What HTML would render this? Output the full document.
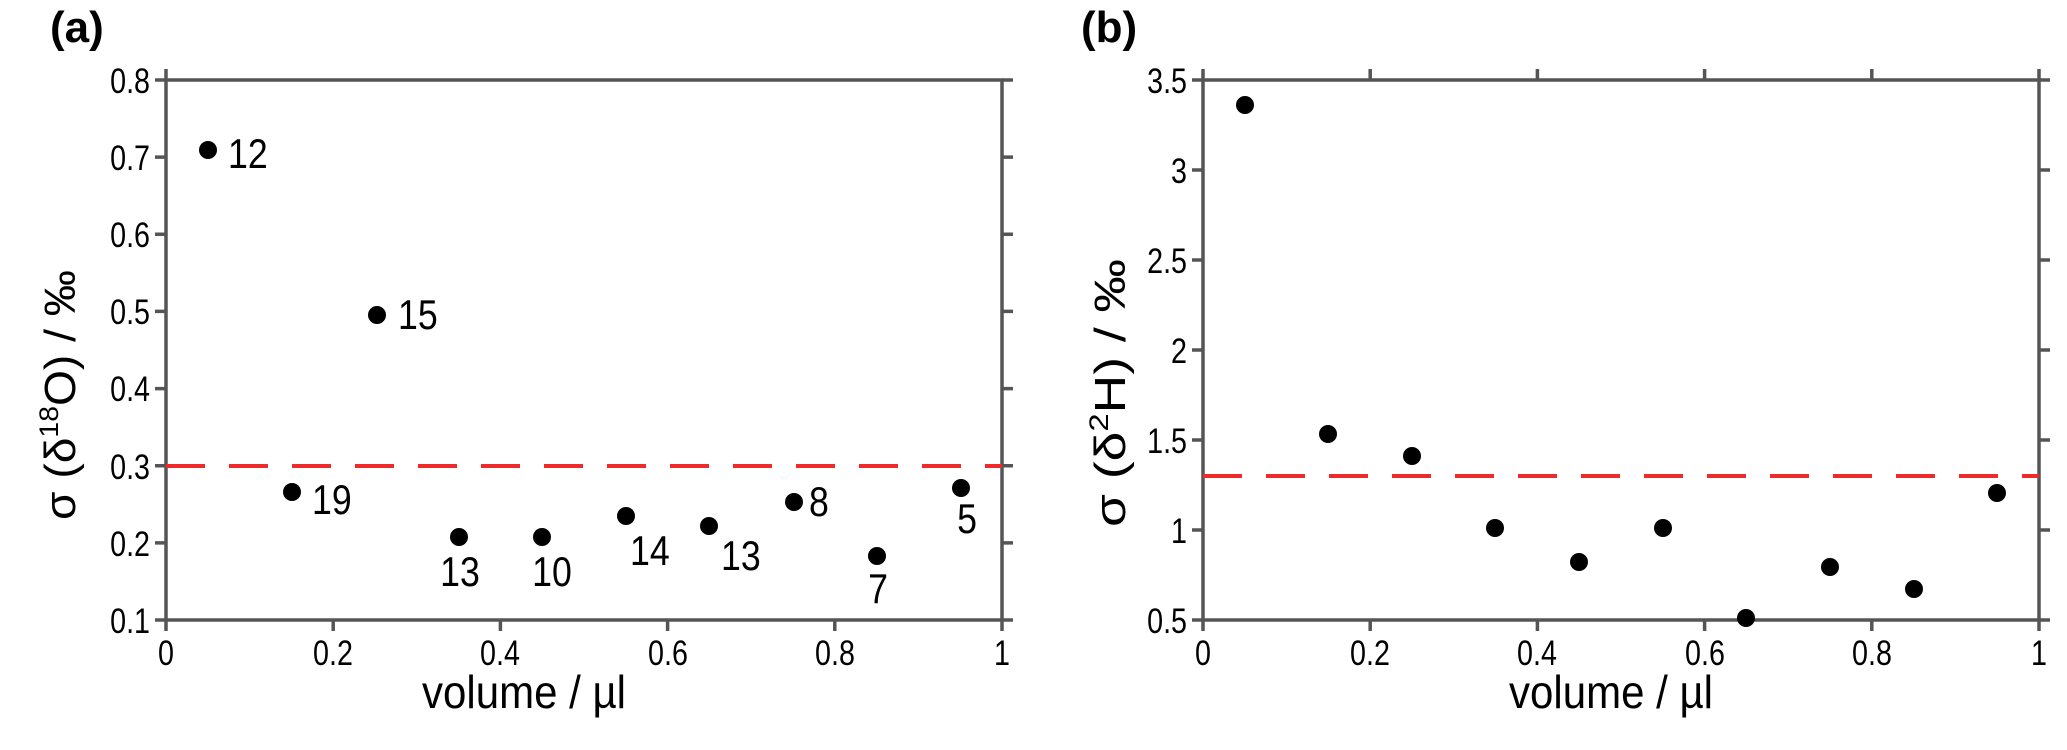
<!DOCTYPE html>
<html><head><meta charset="utf-8"><style>
html,body{margin:0;padding:0;background:#fff;}
svg{display:block;font-family:"Liberation Sans",sans-serif;}
</style></head><body>
<svg width="2067" height="750" viewBox="0 0 2067 750" xmlns="http://www.w3.org/2000/svg">
<text x="50" y="42" font-size="44" font-weight="bold">(a)</text>
<text x="1081" y="42" font-size="44" font-weight="bold">(b)</text>

<g stroke="#555" stroke-width="3.5" fill="none">
<rect x="166" y="80" width="836" height="540"/>
<path d="M166,620v11M333.2,620v11M500.4,620v11M667.6,620v11M834.8,620v11M1002,620v11"/>
<path d="M166,80h-11M166,157.1h-11M166,234.3h-11M166,311.4h-11M166,388.6h-11M166,465.7h-11M166,542.9h-11M166,620h-11"/>
<path d="M1002,80h11M1002,157.1h11M1002,234.3h11M1002,311.4h11M1002,388.6h11M1002,465.7h11M1002,542.9h11M1002,620h11"/>
<path d="M166,80v-11"/>
</g>
<line x1="166" y1="466" x2="1002" y2="466" stroke="#ee2a2a" stroke-width="4" stroke-dasharray="39,24"/>
<g font-size="35" text-anchor="end">
<text transform="translate(150,93) scale(0.82,1)">0.8</text>
<text transform="translate(150,170) scale(0.82,1)">0.7</text>
<text transform="translate(150,247) scale(0.82,1)">0.6</text>
<text transform="translate(150,324) scale(0.82,1)">0.5</text>
<text transform="translate(150,401) scale(0.82,1)">0.4</text>
<text transform="translate(150,479) scale(0.82,1)">0.3</text>
<text transform="translate(150,556) scale(0.82,1)">0.2</text>
<text transform="translate(150,633) scale(0.82,1)">0.1</text>
</g>
<g font-size="35" text-anchor="middle">
<text transform="translate(166,665) scale(0.82,1)">0</text>
<text transform="translate(333,665) scale(0.82,1)">0.2</text>
<text transform="translate(500,665) scale(0.82,1)">0.4</text>
<text transform="translate(668,665) scale(0.82,1)">0.6</text>
<text transform="translate(835,665) scale(0.82,1)">0.8</text>
<text transform="translate(1002,665) scale(0.82,1)">1</text>
</g>
<text x="422" y="708" font-size="46" textLength="204" lengthAdjust="spacingAndGlyphs">volume  / µl</text>
<text transform="translate(75,520) rotate(-90)" font-size="44" textLength="250" lengthAdjust="spacingAndGlyphs">σ (δ<tspan font-size="27" dy="-17">18</tspan><tspan dy="17">O)  /  ‰</tspan></text>
<g fill="#000">
<circle cx="208" cy="150" r="9"/><circle cx="292" cy="492" r="9"/><circle cx="377" cy="315" r="9"/>
<circle cx="459" cy="537" r="9"/><circle cx="542" cy="537" r="9"/><circle cx="626" cy="516" r="9"/>
<circle cx="709" cy="526" r="9"/><circle cx="794" cy="502" r="9"/><circle cx="877" cy="556" r="9"/>
<circle cx="961" cy="488" r="9"/>
</g>
<g font-size="42">
<text transform="translate(228,168) scale(0.85,1)">12</text>
<text transform="translate(398,329) scale(0.85,1)">15</text>
<text transform="translate(312,514) scale(0.85,1)">19</text>
<text transform="translate(460,586) scale(0.85,1)" text-anchor="middle">13</text>
<text transform="translate(552,586) scale(0.85,1)" text-anchor="middle">10</text>
<text transform="translate(630,565) scale(0.85,1)">14</text>
<text transform="translate(721,570) scale(0.85,1)">13</text>
<text transform="translate(809,516) scale(0.85,1)">8</text>
<text transform="translate(878,603) scale(0.85,1)" text-anchor="middle">7</text>
<text transform="translate(967,533) scale(0.85,1)" text-anchor="middle">5</text>
</g>

<g stroke="#555" stroke-width="3.5" fill="none">
<rect x="1203" y="80" width="836" height="540"/>
<path d="M1203,620v11M1370.2,620v11M1537.4,620v11M1704.6,620v11M1871.8,620v11M2039,620v11"/>
<path d="M1203,80v-11M1370.2,80v-11M1537.4,80v-11M1704.6,80v-11M1871.8,80v-11M2039,80v-11"/>
<path d="M1203,80h-11M1203,170h-11M1203,260h-11M1203,350h-11M1203,440h-11M1203,530h-11M1203,620h-11"/>
<path d="M2039,80h11M2039,170h11M2039,260h11M2039,350h11M2039,440h11M2039,530h11M2039,620h11"/>
</g>
<line x1="1203" y1="476" x2="2039" y2="476" stroke="#ee2a2a" stroke-width="4" stroke-dasharray="39,24"/>
<g font-size="35" text-anchor="end">
<text transform="translate(1187,93) scale(0.82,1)">3.5</text>
<text transform="translate(1187,183) scale(0.82,1)">3</text>
<text transform="translate(1187,273) scale(0.82,1)">2.5</text>
<text transform="translate(1187,363) scale(0.82,1)">2</text>
<text transform="translate(1187,453) scale(0.82,1)">1.5</text>
<text transform="translate(1187,543) scale(0.82,1)">1</text>
<text transform="translate(1187,633) scale(0.82,1)">0.5</text>
</g>
<g font-size="35" text-anchor="middle">
<text transform="translate(1203,665) scale(0.82,1)">0</text>
<text transform="translate(1370,665) scale(0.82,1)">0.2</text>
<text transform="translate(1537,665) scale(0.82,1)">0.4</text>
<text transform="translate(1705,665) scale(0.82,1)">0.6</text>
<text transform="translate(1872,665) scale(0.82,1)">0.8</text>
<text transform="translate(2039,665) scale(0.82,1)">1</text>
</g>
<text x="1509" y="708" font-size="46" textLength="204" lengthAdjust="spacingAndGlyphs">volume / µl</text>
<text transform="translate(1125,527) rotate(-90)" font-size="44" textLength="268" lengthAdjust="spacingAndGlyphs">σ (δ<tspan font-size="27" dy="-17">2</tspan><tspan dy="17">H)  /  ‰</tspan></text>
<g fill="#000">
<circle cx="1245" cy="105" r="9"/><circle cx="1328" cy="434" r="9"/><circle cx="1412" cy="456" r="9"/>
<circle cx="1495" cy="528" r="9"/><circle cx="1579" cy="562" r="9"/><circle cx="1663" cy="528" r="9"/>
<circle cx="1746" cy="618" r="9"/><circle cx="1830" cy="567" r="9"/><circle cx="1914" cy="589" r="9"/>
<circle cx="1997" cy="493" r="9"/>
</g>
</svg>
</body></html>
